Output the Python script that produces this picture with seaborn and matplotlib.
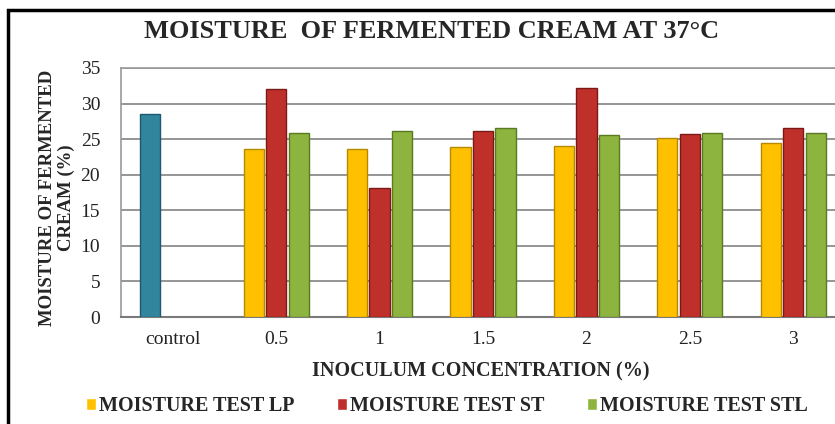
import numpy as np
import pandas as pd
import matplotlib
matplotlib.use("Agg")
import matplotlib.pyplot as plt
import seaborn as sns
from matplotlib.patches import Rectangle

categories = ["control", "0.5", "1", "1.5", "2", "2.5", "3"]
series_names = ["MOISTURE TEST LP", "MOISTURE TEST ST", "MOISTURE TEST STL"]
control_value = 28.5
lp = [23.6, 23.6, 23.9, 24.0, 25.1, 24.5]
st = [32.1, 18.1, 26.2, 32.2, 25.7, 26.5]
stl = [25.8, 26.2, 26.5, 25.6, 25.8, 25.8]
yticks = [0, 5, 10, 15, 20, 25, 30, 35]

colors = {"MOISTURE TEST LP": "#FFC000", "MOISTURE TEST ST": "#C0302B", "MOISTURE TEST STL": "#8DB43E"}
edge_colors = {"MOISTURE TEST LP": "#B58A00", "MOISTURE TEST ST": "#7A1A17", "MOISTURE TEST STL": "#5A7A22"}
control_color = "#31859C"
control_edge = "#1C5870"

rows = [(categories[0], series_names[0], control_value)]
for name, vals in zip(series_names, [lp, st, stl]):
    for c, v in zip(categories[1:], vals):
        rows.append((c, name, v))
df = pd.DataFrame(rows, columns=["conc", "series", "moisture"])

sns.set_style("white")
plt.rcParams["font.family"] = ["Liberation Serif", "DejaVu Serif"]

fig = plt.figure(figsize=(8.35, 4.24), dpi=100)
ax = fig.add_axes([121 / 835, 1 - 317 / 424, 724 / 835, 249 / 424])

sns.barplot(data=df, x="conc", y="moisture", hue="series", order=categories,
            hue_order=series_names, palette=colors, saturation=1, width=0.652, gap=0.1,
            errorbar=None, ax=ax, legend=True, zorder=3)

for cont, name in zip(ax.containers, series_names):
    for p in cont.patches:
        p.set_edgecolor(edge_colors[name])
        p.set_linewidth(1.0)
first = ax.containers[0].patches[0]
first.set_facecolor(control_color)
first.set_edgecolor(control_edge)

ax.set_xlim(-0.5, 6.5)
ax.set_ylim(0, 35)
ax.set_yticks(yticks)
ax.yaxis.grid(True, color="#8C8C8C", linewidth=1.3, zorder=0)
ax.set_axisbelow(True)
for s in ["left", "top", "right"]:
    ax.spines[s].set_color("#9A9A9A")
    ax.spines[s].set_linewidth(1.2)
ax.spines["bottom"].set_color("#7A7A7A")
ax.spines["bottom"].set_linewidth(1.5)
ax.tick_params(axis="y", length=0, pad=15, labelsize=14, colors="#222222")
ax.tick_params(axis="x", length=0, pad=10, labelsize=14, colors="#222222")

ax.set_xlabel("INOCULUM CONCENTRATION (%)", fontsize=14.5, fontweight="bold")
ax.xaxis.set_label_coords((481 - 121) / 724, -0.18)
ax.set_ylabel("MOISTURE OF FERMENTED\nCREAM (%)", fontsize=13.5, fontweight="bold",
              linespacing=1.2, ha="center", va="center")
ax.yaxis.set_label_coords((57 - 121) / 724, 0.478)

fig.text(432 / 835, 1 - 32 / 424, "MOISTURE  OF FERMENTED CREAM AT 37\u00b0C",
         ha="center", va="center", fontsize=19, fontweight="bold")

handles, labels = ax.get_legend_handles_labels()
ax.legend_.remove()
fig.legend(handles, labels, loc="center", bbox_to_anchor=(447 / 835, 1 - 406 / 424),
           ncol=3, frameon=False, prop={"size": 14.5, "weight": "bold"},
           handlelength=0.5, handleheight=0.5, handletextpad=0.15, columnspacing=2.1)

fig.patches.append(Rectangle((8 / 835, -0.1), 2.0, 1.1 - 10 / 424, fill=False,
                             edgecolor="black", linewidth=2.5, transform=fig.transFigure,
                             figure=fig))

fig.savefig("out.png", dpi=100)
